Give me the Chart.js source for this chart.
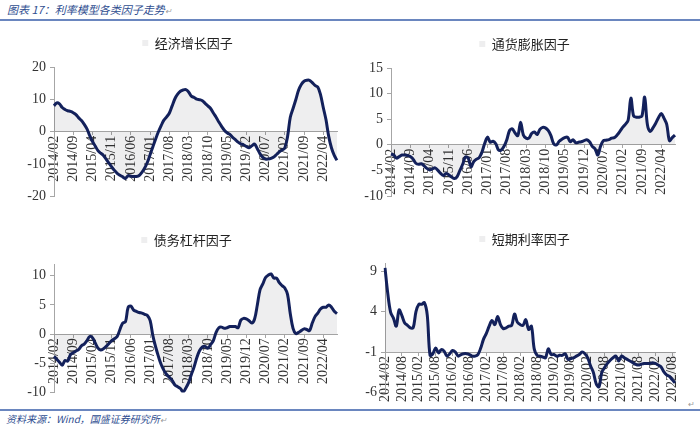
<!DOCTYPE html>
<html>
<head>
<meta charset="utf-8">
<script src="https://cdn.jsdelivr.net/npm/chart.js@4.4.1/dist/chart.umd.min.js"></script>
<style>
  body { margin: 0; background: #fff; width: 700px; height: 427px; position: relative; overflow: hidden; font-family: "Noto Sans CJK SC", sans-serif; }
  .hdr { position: absolute; left: 7px; top: 1px; font-size: 11px; font-style: italic; color: #2e4d8f; }
  .src { position: absolute; left: 6px; top: 411px; font-size: 10px; font-style: italic; color: #2e4d8f; }
  .rule { position: absolute; left: 0; width: 700px; height: 2px; background: #6a86bf; }
  .mark { position: absolute; font-size: 8px; color: #999; }
  canvas { position: absolute; }
</style>
</head>
<body>
<div class="hdr">图表 17：利率模型各类因子走势<span style="font-size:8px;color:#999">↵</span></div>
<div class="rule" style="top:19px"></div>
<div class="rule" style="top:409px"></div>
<div class="src">资料来源：Wind，国盛证券研究所<span style="font-size:8px;color:#999">↵</span></div>
<div class="mark" style="left:688px;top:398px">↵</div>

<canvas id="c1" width="350" height="190" style="left:0;top:19px"></canvas>
<canvas id="c2" width="350" height="190" style="left:350px;top:19px"></canvas>
<canvas id="c3" width="350" height="190" style="left:0;top:215px"></canvas>
<canvas id="c4" width="350" height="190" style="left:350px;top:215px"></canvas>

<script>
// monthly categories 2014/02 .. 2022/09
const months = [];
for (let y = 2014, m = 2; months.length < 104; m++) {
  if (m > 12) { m = 1; y++; }
  months.push(y + '/' + String(m).padStart(2, '0'));
}

const ticks7 = ['2014/02', '2014/09', '2015/04', '2015/11', '2016/06', '2017/01', '2017/08', '2018/03',
  '2018/10', '2019/05', '2019/12', '2020/07', '2021/02', '2021/09', '2022/04'];
const ticks6 = ['2014/02', '2014/08', '2015/02', '2015/08', '2016/02', '2016/08', '2017/02', '2017/08', '2018/02',
  '2018/08', '2019/02', '2019/08', '2020/02', '2020/08', '2021/02', '2021/08', '2022/02', '2022/08'];

const growthTicks = [-20, -10, 0, 10, 20];
const inflationTicks = [-10, -5, 0, 5, 10, 15];
const leverageTicks = [-10, -5, 0, 5, 10];
const rateTicks = [-6, -1, 4, 9];

const growth = [
  8.0, 8.9, 8.6, 7.5, 6.9, 6.5, 6.3, 5.9, 5.3, 4.3, 3.5, 2.3, 0.9, -1.2, -3.0, -4.4, -5.8, -6.6, -7.3, -8.5,
  -9.7, -10.8, -11.9, -12.8, -13.4, -13.9, -14.4, -13.5, -13.7, -13.8, -13.8, -13.5, -12.5, -11.2, -9.4, -7.0, -4.6, -2.2, 0.0, 1.9,
  3.6, 4.6, 5.8, 8.0, 10.2, 11.6, 12.5, 12.9, 13.0, 12.3, 11.0, 10.6, 10.1, 9.9, 9.6, 8.8, 8.0, 7.2, 5.8, 4.5,
  3.0, 1.7, 0.5, -0.3, -0.8, -1.7, -2.4, -3.2, -3.7, -4.0, -4.5, -4.9, -4.3, -3.8, -5.2, -6.8, -7.9, -8.4, -8.4, -8.2,
  -7.8, -7.0, -6.2, -5.6, -5.0, -1.5, 4.5, 7.2, 9.9, 12.8, 14.6, 15.6, 15.9, 15.9, 15.2, 14.3, 13.8, 11.5, 7.5, 3.7,
  -1.5, -5.0, -7.3, -8.8
];

const inflation = [
  -1.8, -2.0, -2.6, -2.3, -2.0, -2.0, -2.1, -2.3, -2.8, -3.6, -3.8, -3.7, -4.1, -4.6, -4.9, -4.7, -4.5, -5.0, -5.6, -6.0,
  -5.6, -5.9, -6.3, -6.6, -6.2, -5.0, -3.8, -2.4, -2.6, -4.3, -3.3, -2.8, -2.5, -1.4, 0.3, 1.5, 0.5, 0.7, 0.2, -1.0,
  -1.0, -0.3, 1.0, 2.8, 3.1, 2.3, 1.8, 4.4, 1.9, 1.3, 1.3, 2.2, 2.5, 2.0, 3.0, 3.4, 3.3, 2.8, 1.8, 0.2,
  0.0, 0.7, 1.1, 1.4, 1.5, 0.6, 1.0, 0.4, 0.5, 0.6, 0.8, 1.0, 0.6, -0.3, -0.8, -2.0, -0.3, 0.8, 0.9, 1.0,
  1.3, 1.4, 1.9, 2.6, 3.4, 4.0, 4.8, 9.1, 5.6, 5.4, 5.4, 5.6, 9.3, 3.9, 2.6, 3.3, 4.2, 5.3, 6.1, 5.2,
  4.0, 0.8, 1.4, 1.9
];

const leverage = [
  -3.8, -4.3, -4.8, -5.3, -4.5, -4.6, -3.5, -3.2, -2.9, -2.6, -2.0, -1.7, -1.1, -0.4, -0.6, -1.5, -2.4, -2.7, -2.5, -2.1,
  -1.6, -1.1, -0.8, -0.4, 0.8, 1.9, 2.1, 4.6, 4.8, 4.1, 3.9, 3.7, 3.6, 3.4, 3.2, 2.3, -0.3, -2.2, -3.8, -5.2,
  -6.2, -6.9, -7.4, -7.9, -8.7, -9.0, -9.3, -9.9, -9.2, -8.3, -6.9, -5.6, -4.0, -2.8, -2.2, -2.1, -2.4, -1.8, -1.1, 0.3,
  1.1, 1.2, 1.0, 1.1, 1.3, 1.3, 1.3, 1.1, 2.4, 2.7, 2.6, 2.3, 1.9, 2.6, 5.0, 7.6, 8.6, 9.7, 10.1, 10.3,
  9.6, 9.6, 8.8, 8.3, 7.9, 6.8, 3.5, 1.0, 0.1, 0.3, 0.6, 0.9, 0.8, 0.6, 1.9, 3.0, 3.6, 4.3, 4.6, 4.6,
  5.0, 4.6, 3.9, 3.5
];

const shortRate = [
  9.4, 6.2, 3.9, 3.2, 2.2, 4.2, 3.5, 2.6, 2.3, 2.0, 2.0, 4.0, 4.9, 4.9, 5.1, 3.6, -1.4, -1.2, -0.5, -1.1,
  -0.7, -0.9, -1.5, -1.2, -0.8, -1.0, -1.5, -1.3, -1.2, -1.2, -1.3, -1.5, -1.5, -1.3, -0.5, 0.6, 1.3, 2.2, 2.9, 2.4,
  3.4, 2.4, 1.9, 2.0, 2.2, 2.3, 3.7, 2.7, 2.4, 2.3, 3.0, 1.8, 2.2, -0.6, -1.4, -1.5, -1.6, -1.7, -0.6, -1.3,
  -1.3, -1.5, -1.4, -1.4, -1.2, -1.9, -1.8, -1.7, -1.5, -1.3, -1.0, -1.2, -1.7, -2.7, -3.5, -4.9, -5.3, -3.5, -2.9, -2.4,
  -2.0, -1.7, -1.5, -2.1, -1.5, -1.7, -1.9, -2.1, -2.3, -2.5, -2.6, -2.5, -2.4, -2.4, -2.4, -2.3, -2.4, -2.6, -2.8, -3.4,
  -3.8, -4.0, -4.4, -4.8
];

const AXIS = '#a6a6a6';
const TXT = '#333333';

// moves the legend so its item sits where the original title sits
const shiftLegend = {
  id: 'shiftLegend',
  afterLayout(chart, args, opts) {
    const l = chart.legend;
    l.left += opts.dx; l.right += opts.dx;
    l.top += opts.dy; l.bottom += opts.dy;
  },
};

function makePanel(id, title, values, cfg) {
  return new Chart(document.getElementById(id), {
    type: 'line',
    data: {
      labels: months,
      datasets: [
        { label: title, data: values, fill: { value: cfg.base }, backgroundColor: 'rgba(0,0,20,0.065)',
          borderWidth: 0, pointRadius: 0, tension: 0.35 },
        { label: '', data: values, fill: false, borderColor: '#14225e',
          borderWidth: 3, pointRadius: 0, tension: 0.35 },
      ],
    },
    options: {
      responsive: false,
      animation: false,
      layout: { padding: cfg.pad },
      plugins: {
        legend: {
          labels: {
            filter: (it) => it.datasetIndex === 0,
            boxWidth: 6, boxHeight: 6, padding: 10, color: '#222',
            font: { family: 'Noto Sans CJK SC', size: 13 },
          },
        },
        tooltip: { enabled: false },
        shiftLegend: { dx: cfg.dx, dy: -7.5 },
      },
      scales: {
        x: {
          position: { y: cfg.base },
          afterBuildTicks: (s) => { s.ticks = s.ticks.filter((t) => cfg.xTicks.includes(months[t.value])); },
          grid: { drawOnChartArea: false, tickLength: 3, color: AXIS },
          border: { color: AXIS },
          ticks: { autoSkip: false, maxRotation: 90, minRotation: 90, padding: 1, color: TXT,
            font: { family: 'Liberation Serif', size: 14 } },
        },
        y: {
          min: cfg.min, max: cfg.max,
          afterBuildTicks: (s) => { s.ticks = cfg.yTicks.map((v) => ({ value: v })); },
          afterFit: (s) => { s.width = cfg.yWidth; },
          grid: { drawOnChartArea: false, tickLength: 4, color: AXIS },
          border: { color: AXIS },
          ticks: { padding: 4, color: TXT, font: { family: 'Liberation Serif', size: 14 } },
        },
      },
    },
    plugins: [shiftLegend],
  });
}

makePanel('c1', '经济增长因子', growth, {
  base: 0, min: -20, max: 20, yTicks: growthTicks, xTicks: ticks7, yWidth: 54,
  pad: { left: 0, right: 13, top: 15, bottom: 12 }, dx: 19,
});
makePanel('c2', '通货膨胀因子', inflation, {
  base: 0, min: -10, max: 15, yTicks: inflationTicks, xTicks: ticks7, yWidth: 41,
  pad: { left: 0, right: 25, top: 16, bottom: 13 }, dx: 12,
});
makePanel('c3', '债务杠杆因子', leverage, {
  base: 0, min: -10, max: 12, yTicks: leverageTicks, xTicks: ticks7, yWidth: 54,
  pad: { left: 0, right: 13, top: 16, bottom: 12 }, dx: 18,
});
makePanel('c4', '短期利率因子', shortRate, {
  base: -1, min: -6, max: 10, yTicks: rateTicks, xTicks: ticks6, yWidth: 35,
  pad: { left: 0, right: 25, top: 15, bottom: 11 }, dx: 12,
});
</script>
</body>
</html>
